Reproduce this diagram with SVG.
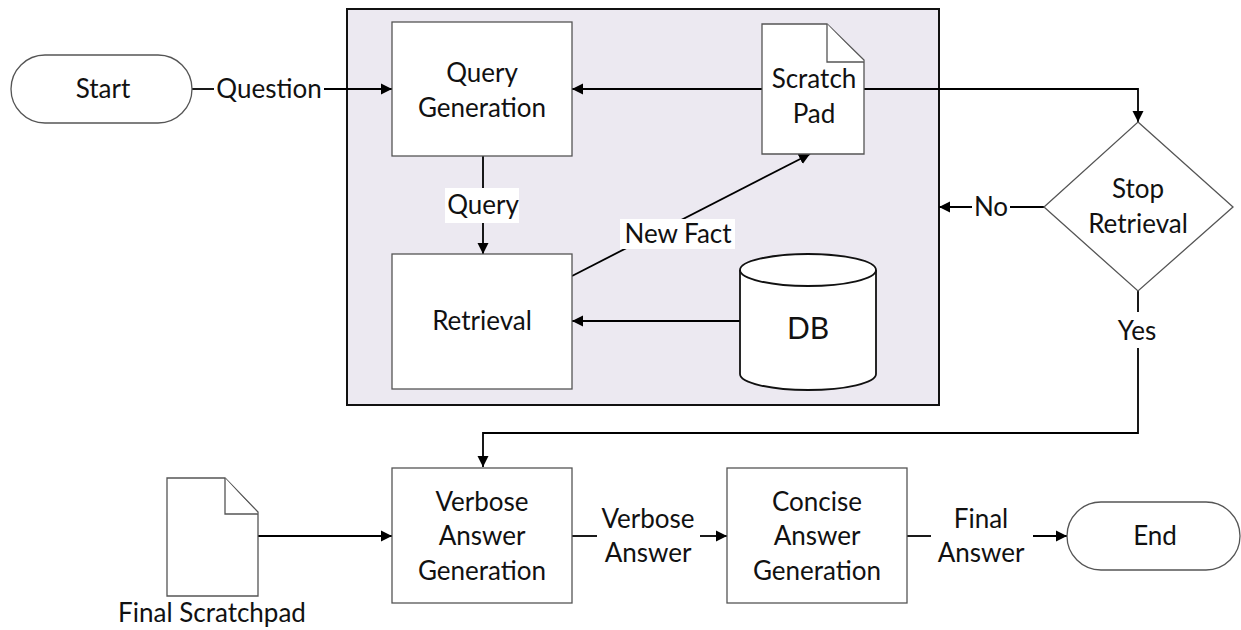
<svg xmlns="http://www.w3.org/2000/svg" width="1241" height="630" viewBox="0 0 1241 630">
<style>
.box{fill:#fff;stroke:#555;stroke-width:1.3}
.term{fill:#fff;stroke:#555;stroke-width:1.3}
.t{font-family:Lato,"Liberation Sans",sans-serif;font-size:26px;fill:#111;text-anchor:middle}
.c{fill:none;stroke:#000;stroke-width:1.8}
.a{marker-end:url(#ah)}
</style>
<defs>
<marker id="ah" viewBox="0 0 10 10" refX="10" refY="5" markerWidth="11" markerHeight="12" markerUnits="userSpaceOnUse" orient="auto">
<path d="M0,0 L10,5 L0,10 z" fill="#000"/>
</marker>
</defs>
<rect width="1241" height="630" fill="#fff"/>
<g id="container">
<rect x="347" y="9" width="592" height="396" fill="#ECE9F1" stroke="#111" stroke-width="2"/>
</g>
<g id="connectors">
<path class="c" d="M192,89 H214"/>
<path class="c a" d="M324,89 H392"/>
<path class="c a" d="M762,89 H572"/>
<path class="c a" d="M864,89 H1138 V122"/>
<path class="c a" d="M483,156 V254"/>
<path class="c a" d="M572,276 L810,154"/>
<path class="c a" d="M740,321 H572"/>
<path class="c" d="M1044,207 H1010"/>
<path class="c a" d="M972,207 H939"/>
<path class="c" d="M1138,291 V312"/>
<path class="c a" d="M1138,348 V433 H483 V467"/>
<path class="c a" d="M258,536 H392"/>
<path class="c" d="M572,536 H597"/>
<path class="c a" d="M700,536 H727"/>
<path class="c" d="M907,536 H931"/>
<path class="c a" d="M1033,536 H1067"/>
<rect x="445" y="188" width="74" height="35" fill="#fff"/>
<text class="t" x="483" y="214">Query</text>
<rect x="620" y="219" width="115" height="30" fill="#fff"/>
<text class="t" x="678" y="243">New Fact</text>
<text class="t" x="269" y="98">Question</text>
<text class="t" x="991" y="216">No</text>
<text class="t" x="1137" y="340">Yes</text>
<text class="t" x="648" y="528">Verbose</text>
<text class="t" x="648" y="562">Answer</text>
<text class="t" x="981" y="528">Final</text>
<text class="t" x="981" y="562">Answer</text>
</g>
<g id="start">
<rect class="term" x="11" y="55" width="181" height="68" rx="34"/>
<text class="t" x="103" y="98">Start</text>
</g>
<g id="query-generation">
<rect class="box" x="392" y="22" width="180" height="134"/>
<text class="t" x="482" y="82">Query</text>
<text class="t" x="482" y="117">Generation</text>
</g>
<g id="scratch-pad">
<path class="box" d="M762,24 H827 L864,60 V154 H762 Z"/>
<path class="box" fill="none" d="M827,24 V62 H864"/>
<text class="t" x="814" y="88">Scratch</text>
<text class="t" x="814" y="123">Pad</text>
</g>
<g id="retrieval">
<rect class="box" x="392" y="254" width="180" height="135"/>
<text class="t" x="482" y="330">Retrieval</text>
</g>
<g id="db">
<path d="M740,270 A68,16 0 0 1 876,270 V374 A68,16 0 0 1 740,374 Z" fill="#fff" stroke="#111" stroke-width="1.8"/>
<path d="M740,270 A68,16 0 0 0 876,270" fill="none" stroke="#111" stroke-width="1.8"/>
<text class="t" x="808" y="339" style="font-size:30px">DB</text>
</g>
<g id="stop-retrieval">
<path class="box" d="M1138,122 L1233,207 L1138,291 L1044,207 Z"/>
<text class="t" x="1138" y="198">Stop</text>
<text class="t" x="1138" y="233">Retrieval</text>
</g>
<g id="final-scratchpad">
<path class="box" d="M167,478 H225 L258,512 V596 H167 Z"/>
<path class="box" fill="none" d="M225,478 V514 H258"/>
<text class="t" x="212" y="622">Final Scratchpad</text>
</g>
<g id="verbose">
<rect class="box" x="392" y="468" width="180" height="135"/>
<text class="t" x="482" y="511">Verbose</text>
<text class="t" x="482" y="545">Answer</text>
<text class="t" x="482" y="580">Generation</text>
</g>
<g id="concise">
<rect class="box" x="727" y="468" width="180" height="135"/>
<text class="t" x="817" y="511">Concise</text>
<text class="t" x="817" y="545">Answer</text>
<text class="t" x="817" y="580">Generation</text>
</g>
<g id="end">
<rect class="term" x="1067" y="502" width="173" height="68" rx="34"/>
<text class="t" x="1155" y="545">End</text>
</g>
</svg>
